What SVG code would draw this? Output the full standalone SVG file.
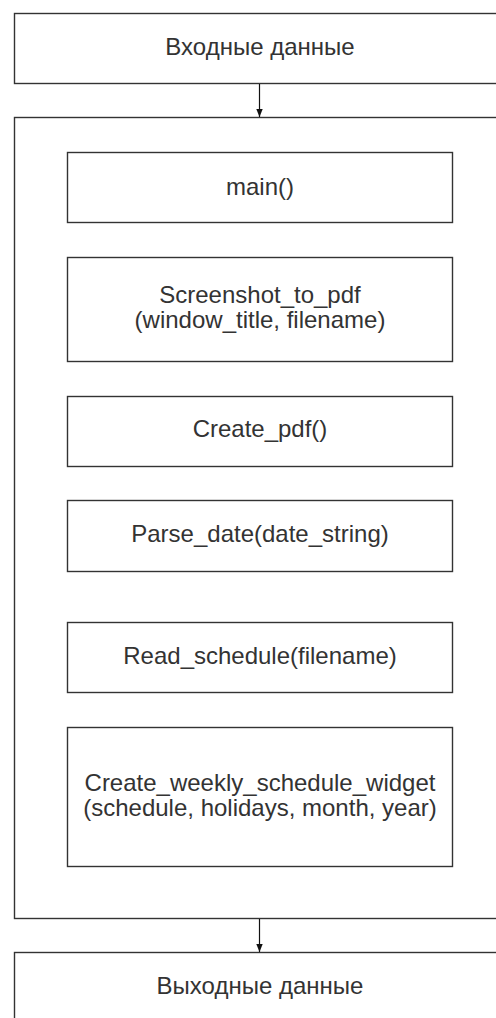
<svg xmlns="http://www.w3.org/2000/svg" width="496" height="1018" viewBox="0 0 496 1018">
<style>
.box{fill:#ffffff;stroke:#333333;stroke-width:1.4}
.lbl{font-family:"Liberation Sans",Arial,sans-serif;font-size:24px;fill:#333333;text-anchor:middle}
.edge{stroke:#111111;stroke-width:1.2;fill:none}
</style>
<defs>
<marker id="arr" viewBox="0 0 10 10" refX="10" refY="5" markerWidth="8" markerHeight="8" markerUnits="userSpaceOnUse" orient="auto">
<path d="M0,1 L10,5 L0,9 Z" fill="#111111"/>
</marker>
</defs>
<rect width="496" height="1018" fill="#ffffff"/>
<g id="input">
<rect class="box" x="14.5" y="13.5" width="500" height="70"/>
<text class="lbl" x="260" y="55">Входные данные</text>
</g>
<g id="container">
<rect class="box" x="14.5" y="117.5" width="500" height="801"/>
</g>
<g id="main">
<rect class="box" x="67.5" y="152.5" width="385" height="70"/>
<text class="lbl" x="260" y="195">main()</text>
</g>
<g id="screenshot">
<rect class="box" x="67.5" y="257.5" width="385" height="104"/>
<text class="lbl" x="260" y="303">Screenshot_to_pdf</text>
<text class="lbl" x="260" y="328">(window_title, filename)</text>
</g>
<g id="createpdf">
<rect class="box" x="67.5" y="396.5" width="385" height="70"/>
<text class="lbl" x="260" y="437">Create_pdf()</text>
</g>
<g id="parsedate">
<rect class="box" x="67.5" y="500.5" width="385" height="71"/>
<text class="lbl" x="260" y="542">Parse_date(date_string)</text>
</g>
<g id="readschedule">
<rect class="box" x="67.5" y="622.5" width="385" height="70"/>
<text class="lbl" x="260" y="664">Read_schedule(filename)</text>
</g>
<g id="widget">
<rect class="box" x="67.5" y="727.5" width="385" height="139"/>
<text class="lbl" x="260" y="791">Create_weekly_schedule_widget</text>
<text class="lbl" x="260" y="816">(schedule, holidays, month, year)</text>
</g>
<g id="output">
<rect class="box" x="14.5" y="952.5" width="500" height="80"/>
<text class="lbl" x="260" y="994">Выходные данные</text>
</g>
<g id="connectors">
<line class="edge" x1="259.5" y1="84" x2="259.5" y2="117" marker-end="url(#arr)"/>
<line class="edge" x1="259.5" y1="919" x2="259.5" y2="952" marker-end="url(#arr)"/>
</g>
</svg>
